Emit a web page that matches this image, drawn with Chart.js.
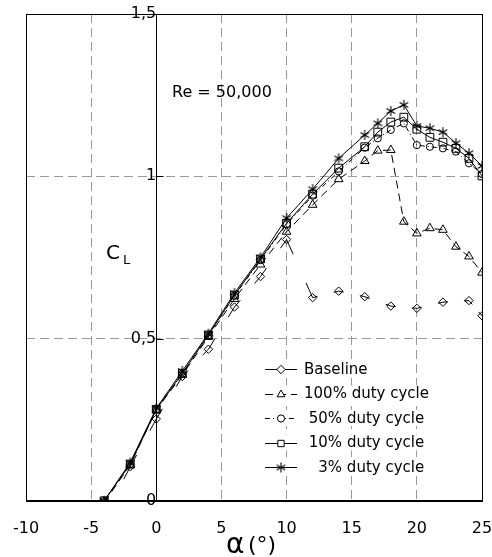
<!DOCTYPE html>
<html lang="en">
<head>
<meta charset="UTF-8">
<title>CL vs alpha</title>
<script src="https://cdn.jsdelivr.net/npm/chart.js@4.4.0/dist/chart.umd.min.js"></script>
<style>
    html, body { margin: 0; padding: 0; background: #fff; }
    #wrap { position: relative; width: 492px; height: 557px; }
</style>
</head>
<body>
<div id="wrap"><canvas id="clChart"></canvas></div>
<script>
// angle of attack (deg) and lift coefficient for each case
const alphaBase = [-4, -2, 0, 2, 4, 6, 8, 10, 12, 14, 16, 18, 20, 22, 24, 25];
const clBase    = [-0.05, 0.105, 0.252, 0.383, 0.467, 0.597, 0.691, 0.805, 0.626, 0.646, 0.629, 0.600, 0.593, 0.612, 0.617, 0.570];

const alphaDuty = [-4, -2, 0, 2, 4, 6, 8, 10, 12, 14, 16, 17, 18, 19, 20, 21, 22, 23, 24, 25];
const cl100 = [-0.005, 0.110, 0.280, 0.388, 0.505, 0.622, 0.728, 0.829, 0.912, 0.991, 1.047, 1.079, 1.081, 0.860, 0.824, 0.840, 0.835, 0.783, 0.753, 0.703];
const cl50  = [0.0, 0.113, 0.282, 0.392, 0.510, 0.632, 0.742, 0.852, 0.940, 1.015, 1.088, 1.117, 1.143, 1.163, 1.096, 1.091, 1.086, 1.076, 1.040, 1.007];
const cl10  = [0.0, 0.113, 0.282, 0.393, 0.511, 0.634, 0.745, 0.855, 0.945, 1.025, 1.091, 1.136, 1.167, 1.182, 1.145, 1.120, 1.105, 1.086, 1.055, 1.001];
const cl3   = [0.0, 0.118, 0.285, 0.400, 0.515, 0.640, 0.750, 0.871, 0.960, 1.055, 1.127, 1.163, 1.201, 1.220, 1.155, 1.148, 1.136, 1.102, 1.071, 1.032];

const seriesNames = ['Baseline', '100% duty cycle', ' 50% duty cycle', ' 10% duty cycle', '   3% duty cycle'];

const xTicks = [-10, -5, 0, 5, 10, 15, 20, 25];
const yTicks = [0, 0.5, 1, 1.5];

const FONT = 'DejaVu Sans';
const GRID = '#9a9a9a';
const NONE = 'rgba(0,0,0,0)';

function pts(xs, ys) {
    return xs.map((x, i) => ({ x: x, y: ys[i] }));
}

// six-spoke asterisk marker
function makeStar(r) {
    const c = document.createElement('canvas');
    const size = 2 * r + 2;
    c.width = size; c.height = size;
    const g = c.getContext('2d');
    const m = size / 2;
    g.strokeStyle = '#000';
    g.lineWidth = 1.1;
    g.beginPath();
    for (let k = 0; k < 3; k++) {
        const ang = Math.PI / 2 + k * Math.PI / 3;
        const dx = Math.cos(ang) * r, dy = Math.sin(ang) * r;
        g.moveTo(m - dx, m - dy);
        g.lineTo(m + dx, m + dy);
    }
    g.stroke();
    return c;
}
const starMark = makeStar(5);

// baseline line is only stroked near its markers
function baseDash(ctx) {
    const L = Math.hypot(ctx.p1.x - ctx.p0.x, ctx.p1.y - ctx.p0.y);
    const s = Math.max(5, 0.3 * L - 3);
    if (L <= 2 * s + 2) return [];
    return [s, L - 2 * s, s, 0];
}

// keep the axes from reserving room for label overhang
function noOverhang(s) {
    s.paddingLeft = 0; s.paddingRight = 0; s.paddingTop = 0; s.paddingBottom = 0;
}

const common = {
    borderColor: '#000',
    backgroundColor: NONE,
    pointBorderColor: '#000',
    pointBackgroundColor: NONE,
    borderWidth: 1,
    pointBorderWidth: 1,
    fill: false,
    tension: 0
};

const datasets = [
    Object.assign({}, common, {
        label: seriesNames[0], data: pts(alphaBase, clBase),
        pointStyle: 'rectRot', pointRadius: 4.2,
        segment: { borderDash: baseDash }
    }),
    Object.assign({}, common, {
        label: seriesNames[1], data: pts(alphaDuty, cl100),
        pointStyle: 'triangle', pointRadius: 5, borderDash: [8, 5]
    }),
    Object.assign({}, common, {
        label: seriesNames[2], data: pts(alphaDuty, cl50),
        pointStyle: 'circle', pointRadius: 3.6, borderDash: [5, 3, 1, 3]
    }),
    Object.assign({}, common, {
        label: seriesNames[3], data: pts(alphaDuty, cl10),
        pointStyle: 'rect', pointRadius: 5.5
    }),
    Object.assign({}, common, {
        label: seriesNames[4], data: pts(alphaDuty, cl3),
        pointStyle: starMark, pointRadius: 5
    })
];

// small marker painter for the legend
function drawMarker(ctx, style, r, x, y) {
    ctx.save();
    ctx.lineWidth = 1;
    ctx.strokeStyle = '#000';
    ctx.fillStyle = '#fff';
    ctx.setLineDash([]);
    if (typeof style === 'object') {
        ctx.drawImage(style, x - style.width / 2, y - style.height / 2);
        ctx.restore();
        return;
    }
    ctx.beginPath();
    if (style === 'rectRot') {
        ctx.moveTo(x, y - r); ctx.lineTo(x + r, y); ctx.lineTo(x, y + r); ctx.lineTo(x - r, y); ctx.closePath();
    } else if (style === 'triangle') {
        const h = r * 1.5;
        ctx.moveTo(x, y - r); ctx.lineTo(x + r * Math.sin(Math.PI / 3), y + h - r); ctx.lineTo(x - r * Math.sin(Math.PI / 3), y + h - r); ctx.closePath();
    } else if (style === 'circle') {
        ctx.arc(x, y, r, 0, Math.PI * 2);
    } else if (style === 'rect') {
        const s = r * Math.SQRT1_2;
        ctx.rect(x - s, y - s, 2 * s, 2 * s);
    }
    ctx.fill();
    ctx.stroke();
    ctx.restore();
}

const decor = {
    id: 'decor',
    afterDraw(chart) {
        const { ctx, chartArea: a, scales } = chart;
        ctx.save();
        ctx.setLineDash([]);
        ctx.strokeStyle = '#000';
        ctx.lineWidth = 1;

        // plot frame
        const l = Math.round(a.left) + 0.5, t = Math.round(a.top) + 0.5;
        const r = Math.round(a.right) + 0.5, b = Math.round(a.bottom) + 0.5;
        ctx.strokeRect(l, t, r - l, b - t);

        // inward ticks on the zero axis
        const x0 = Math.round(scales.x.getPixelForValue(0)) + 0.5;
        [0.5, 1].forEach(v => {
            const y = Math.round(scales.y.getPixelForValue(v)) + 0.5;
            ctx.beginPath();
            ctx.moveTo(x0, y);
            ctx.lineTo(x0 + 7, y);
            ctx.stroke();
        });

        ctx.fillStyle = '#000';
        ctx.textBaseline = 'alphabetic';
        ctx.textAlign = 'left';

        // Reynolds number note
        ctx.font = '16px "' + FONT + '"';
        ctx.fillText('Re = 50,000', 172, 97);

        // y title C_L
        ctx.font = '20px "' + FONT + '"';
        ctx.fillText('C', 106, 259);
        ctx.font = '13px "' + FONT + '"';
        ctx.fillText('L', 123, 264);

        // x title
        ctx.font = '28px "' + FONT + '"';
        ctx.fillText('\u03B1', 226, 553);
        ctx.font = '22px "' + FONT + '"';
        ctx.fillText('(\u00B0)', 248, 552);

        // legend
        const rowY = [369, 393.5, 418, 442.5, 467];
        const sx0 = 265, sx1 = 297, mx = 281, tx = 304;
        ctx.font = '15px "' + FONT + '"';
        ctx.textBaseline = 'middle';
        chart.data.datasets.forEach((ds, i) => {
            const y = rowY[i];
            const w = ctx.measureText(ds.label).width;
            ctx.fillStyle = '#fff';
            ctx.fillRect(sx0 - 2, y - 8, tx - sx0 + w + 4, 16);
            ctx.strokeStyle = '#000';
            ctx.setLineDash(ds.borderDash || []);
            ctx.beginPath();
            ctx.moveTo(sx0, Math.round(y) + 0.5);
            ctx.lineTo(sx1, Math.round(y) + 0.5);
            ctx.stroke();
            ctx.setLineDash([]);
            drawMarker(ctx, ds.pointStyle, Math.min(ds.pointRadius, 4.5), mx, Math.round(y) + 0.5);
            ctx.fillStyle = '#000';
            ctx.fillText(ds.label, tx, y + 1);
        });
        ctx.restore();
    }
};

new Chart(document.getElementById('clChart'), {
    type: 'line',
    data: { datasets: datasets },
    options: {
        responsive: true,
        maintainAspectRatio: false,
        animation: false,
        events: [],
        layout: { padding: { left: 26, right: 10, top: 14, bottom: 1 } },
        plugins: {
            legend: { display: false },
            tooltip: { enabled: false }
        },
        scales: {
            x: {
                type: 'linear',
                position: 'bottom',
                min: xTicks[0],
                max: xTicks[xTicks.length - 1],
                afterBuildTicks: s => { s.ticks = xTicks.map(v => ({ value: v })); },
                afterFit: noOverhang,
                ticks: {
                    color: '#000',
                    font: { family: FONT, size: 16 },
                    padding: 18,
                    maxRotation: 0,
                    autoSkip: false
                },
                grid: {
                    drawTicks: false,
                    lineWidth: 1,
                    color: c => (c.tick && [-10, 0, 25].includes(c.tick.value)) ? NONE : GRID
                },
                border: { display: true, color: '#000', width: 1, dash: [9, 5] }
            },
            y: {
                type: 'linear',
                position: { x: 0 },
                min: yTicks[0],
                max: yTicks[yTicks.length - 1],
                afterBuildTicks: s => { s.ticks = yTicks.map(v => ({ value: v })); },
                afterFit: noOverhang,
                ticks: {
                    color: '#000',
                    font: { family: FONT, size: 16 },
                    callback: v => String(v).replace('.', ',')
                },
                grid: {
                    lineWidth: 1,
                    tickLength: 15,
                    tickColor: NONE,
                    color: c => (c.tick && (c.tick.value === 0 || c.tick.value === 1.5)) ? NONE : GRID
                },
                border: { display: true, color: '#000', width: 1, dash: [9, 5] }
            }
        }
    },
    plugins: [decor]
});
</script>
</body>
</html>
